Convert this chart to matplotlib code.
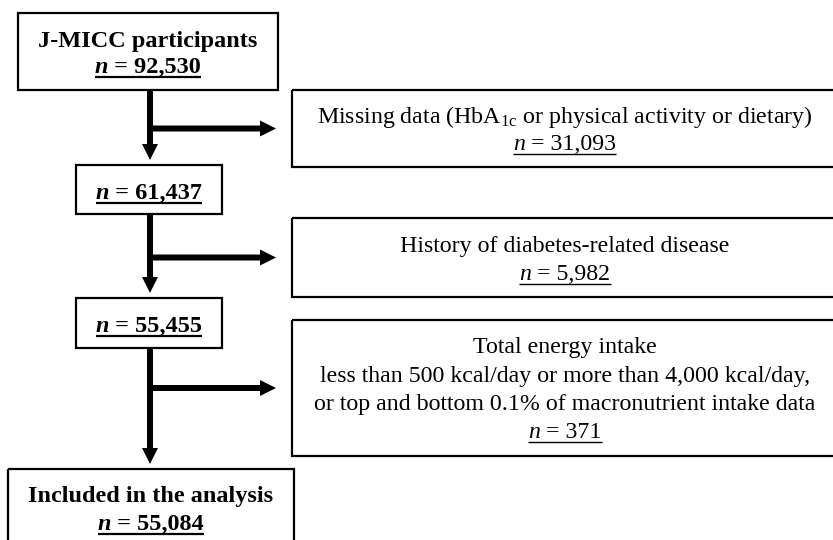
import matplotlib
matplotlib.use('Agg')
import matplotlib.pyplot as plt
from matplotlib.patches import Rectangle, FancyArrow

plt.rcParams['font.family'] = ['Liberation Serif', 'DejaVu Serif']
plt.rcParams['mathtext.fontset'] = 'custom'
plt.rcParams['mathtext.rm'] = 'Liberation Serif'
plt.rcParams['mathtext.it'] = 'Liberation Serif:italic'
plt.rcParams['mathtext.bf'] = 'Liberation Serif:bold'

# ---- data ----
main_titles = ["J-MICC participants", "", "", "Included in the analysis"]
main_counts = ["92,530", "61,437", "55,455", "55,084"]
excl_lines = [
    ["Missing data (HbA$_{\\mathrm{1c}}$ or physical activity or dietary)"],
    ["History of diabetes-related disease"],
    ["Total energy intake",
     "less than 500 kcal/day or more than 4,000 kcal/day,",
     "or top and bottom 0.1% of macronutrient intake data"],
]
excl_counts = ["31,093", "5,982", "371"]

# ---- layout (pixel space) ----
W, H = 833, 540
main_boxes = [(18, 13, 278, 90), (76, 165, 222, 214), (76, 298, 222, 348), (8, 469, 294, 575)]
main_text_y = [[47, 73], [199], [332], [502, 530]]
excl_boxes = [(292, 90, 850, 167), (292, 218, 850, 297), (292, 320, 850, 456)]
excl_text_y = [[123, 150], [252, 280], [353, 382, 410, 438]]
excl_cx = 565
arrow_x = 150
arrow_tip_x = 276

fig = plt.figure(figsize=(W / 100, H / 100), dpi=100)
ax = fig.add_axes([0, 0, 1, 1])
ax.set_xlim(0, W)
ax.set_ylim(H, 0)
ax.axis('off')
r = fig.canvas.get_renderer()

FS_B = 17.5
FS_R = 17.2


def seg_text(cx, y, segs, size, underline=False, ulw=1.0, uoff=3.5):
    objs, widths = [], []
    for s, st, wt in segs:
        t = ax.text(0, y, s, fontsize=size, style=st, weight=wt,
                    ha='left', va='baseline')
        bb = t.get_window_extent(renderer=r)
        objs.append(t)
        widths.append(bb.width)
    total = sum(widths)
    x = cx - total / 2
    for t, w in zip(objs, widths):
        t.set_x(x)
        x += w
    if underline:
        ax.plot([cx - total / 2, cx + total / 2], [y + uoff, y + uoff],
                color='black', lw=ulw, solid_capstyle='butt')


def box(b):
    x0, y0, x1, y1 = b
    ax.add_patch(Rectangle((x0, y0), x1 - x0, y1 - y0, fill=False,
                           edgecolor='black', lw=1.6, clip_on=True))


# main boxes
for i, b in enumerate(main_boxes):
    box(b)
    cx = (b[0] + b[2]) / 2
    ys = main_text_y[i]
    if main_titles[i]:
        ax.text(cx, ys[0], main_titles[i], fontsize=FS_B, weight='bold',
                ha='center', va='baseline')
        cy = ys[1]
    else:
        cy = ys[0]
    seg_text(cx, cy, [("n", 'italic', 'bold'), (" = " + main_counts[i], 'normal', 'bold')],
             FS_B, underline=True, ulw=1.6, uoff=4)

# exclusion boxes
for i, b in enumerate(excl_boxes):
    box(b)
    ys = excl_text_y[i]
    for line, y in zip(excl_lines[i], ys):
        ax.text(excl_cx, y, line, fontsize=FS_R, ha='center', va='baseline')
    seg_text(excl_cx, ys[-1], [("n", 'italic', 'normal'), (" = " + excl_counts[i], 'normal', 'normal')],
             FS_R, underline=True, ulw=1.0, uoff=3.5)

# arrows
for i in range(3):
    y_start = main_boxes[i][3]
    y_end = main_boxes[i + 1][1] - 5
    ax.add_patch(FancyArrow(arrow_x, y_start, 0, y_end - y_start, width=6,
                            head_width=16, head_length=16, length_includes_head=True,
                            color='black', lw=0))
    yb = (excl_boxes[i][1] + excl_boxes[i][3]) / 2
    ax.add_patch(FancyArrow(arrow_x - 3, yb, arrow_tip_x - arrow_x + 3, 0, width=6,
                            head_width=16, head_length=16, length_includes_head=True,
                            color='black', lw=0))

fig.savefig('out.png', dpi=100, facecolor='white')
